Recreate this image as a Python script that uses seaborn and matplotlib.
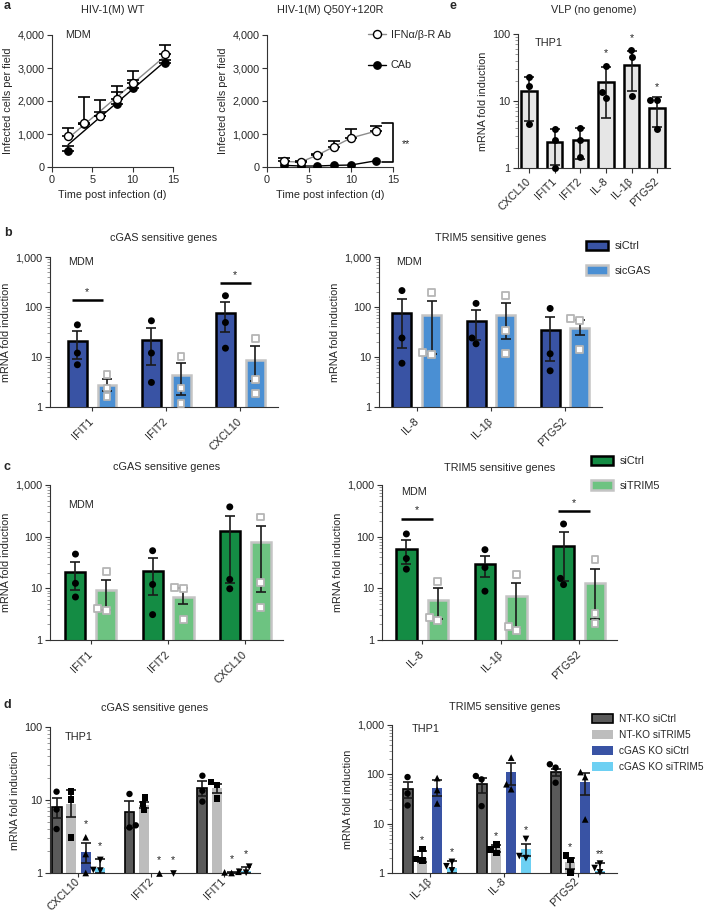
import numpy as np
import pandas as pd
import matplotlib
matplotlib.use("Agg")
import matplotlib.pyplot as plt
from matplotlib.ticker import FixedLocator, FuncFormatter, LogLocator, NullFormatter
from matplotlib.patches import Patch
from matplotlib.lines import Line2D
import seaborn as sns

sns.set_style("ticks")
plt.rcParams["font.family"] = ["Liberation Sans", "DejaVu Sans"]
plt.rcParams["font.size"] = 7.8

# ---------------- data ----------------
# a: infected cells per field
wt_days = [2, 4, 6, 8, 10, 14]
wt_ifn = [940, 1340, 1550, 2060, 2550, 3410]
wt_ifn_err = [230, 780, 490, 390, 370, 280]
wt_cab = [490, 1300, 1560, 1900, 2390, 3150]
wt_cab_err = [150, 0, 120, 360, 250, 100]

mut_days = [2, 4, 6, 8, 10, 13]
mut_ifn = [170, 150, 360, 620, 880, 1090]
mut_ifn_err = [100, 20, 30, 170, 260, 150]
mut_cab = [50, 30, 30, 50, 60, 190]

# e: VLP, THP1
e_genes = ["CXCL10", "IFIT1", "IFIT2", "IL-8", "IL-1β", "PTGS2"]
e_mean = [14, 2.45, 2.65, 19, 35, 7.8]
e_sd = [9, 1.35, 1.3, 13.5, 21, 3.7]
e_pts = [[23, 16.5, 4.5], [3.8, 2.6, 1.0], [4.0, 2.6, 1.45],
         [33, 13.5, 11], [57, 45, 12], [10.5, 10.2, 3.8]]
e_stars = ["", "", "", "*", "*", "*"]

cgas_genes = ["IFIT1", "IFIT2", "CXCL10"]
trim_genes = ["IL-8", "IL-1β", "PTGS2"]

# b: siCtrl vs sicGAS (MDM)
b_conds = ["siCtrl", "sicGAS"]
bl_mean = [[20.5, 21.5, 76], [2.8, 4.4, 8.9]]
bl_lo = [[9, 7, 31], [2.05, 1.75, 3.3]]
bl_hi = [[33, 38, 124], [3.6, 7.6, 16.3]]
bl_pts = [[[44, 12, 7], [53, 12, 3.1], [168, 49, 15]],
          [[4.4, 2.4, 1.6], [10.3, 2.4, 1.2], [23, 3.5, 1.9]]]
bl_sig = [(0, 140), (2, 300)]

br_mean = [[76, 53, 35], [69, 69, 38]]
br_lo = [[15.3, 21.5, 8.5], [11.6, 23, 27]]
br_hi = [[144, 87, 63], [133, 122, 56]]
br_pts = [[[213, 24, 7.5], [118, 24, 18.4], [93.5, 11.6, 5.3]],
          [[194, 11.2, 12.5], [168, 34, 11.9], [58.6, 52.8, 13.9]]]

# c: siCtrl vs siTRIM5 (MDM)
c_conds = ["siCtrl", "siTRIM5"]
cl_mean = [[20.8, 21.7, 126], [9.1, 6.8, 78]]
cl_lo = [[9.2, 7.3, 12.5], [3.75, 5.0, 8.4]]
cl_hi = [[32.6, 38, 251], [14.5, 10, 160]]
cl_pts = [[[46, 12.5, 6.8], [53.5, 11.9, 3.1], [377, 14.9, 9.8]],
          [[20.8, 3.75, 4.0], [10.2, 10, 2.46], [240, 12.9, 4.2]]]

cr_mean = [[57, 29.4, 66], [6.0, 7.0, 12.7]]
cr_lo = [[30, 16.3, 14], [2.5, 1.67, 2.6]]
cr_hi = [[88, 42, 124], [10, 12.7, 24]]
cr_pts = [[[113, 37.7, 23.5], [56, 25.3, 8.8], [176, 11.8, 15.6]],
          [[13.7, 2.4, 2.7], [18.4, 1.5, 1.8], [35.6, 3.2, 2.1]]]
cr_sig = [(0, 223), (2, 310)]

# d: THP1 knockouts
d_conds = ["NT-KO siCtrl", "NT-KO siTRIM5", "cGAS KO siCtrl", "cGAS KO siTRIM5"]
dl_genes = ["CXCL10", "IFIT2", "IFIT1"]
dl_mean = [[8.1, 6.9, 14.4], [8.8, 8.5, 14.4], [1.96, 1.0, 1.02], [1.16, 1.0, 1.08]]
dl_lo = [[5.7, 4.1, 11.4], [5.8, 7.8, 12.6], [1.36, 1.0, 1.0], [1.0, 1.0, 1.0]]
dl_hi = [[10.5, 9.7, 18.4], [13.5, 9.3, 16.4], [2.55, 1.0, 1.04], [1.54, 1.0, 1.2]]
dl_pts = [[[13, 7.4, 4.0], [12.1, 4.5, 4.2], [21.5, 13.4, 9.5]],
          [[13, 10.2, 3.08], [10.8, 8.9, 7.3], [17.8, 16, 10.5]],
          [[3.08, 1.82, 1.0], [1.0, np.nan, np.nan], [1.0, 1.02, 1.04]],
          [[1.51, 1.1, 1.08], [1.0, np.nan, np.nan], [1.22, 1.04, 1.01]]]
dl_stars = [["", "", ""], ["", "", ""], ["*", "*", "*"], ["*", "*", "*"]]

dr_genes = ["IL-1β", "IL-8", "PTGS2"]
dr_mean = [[49.6, 63.6, 111], [2.0, 3.2, 1.67], [54, 111, 70], [1.26, 3.0, 1.08]]
dr_lo = [[33, 42, 92], [1.7, 2.7, 1.2], [37, 62, 39], [1.0, 2.25, 1.0]]
dr_hi = [[70, 86, 130], [2.76, 3.77, 2.0], [77, 173, 108], [1.73, 3.95, 1.6]]
dr_pts = [[[88, 41, 23.4], [92.5, 79, 22.7], [160, 137, 67.6]],
          [[3.1, 1.8, 1.9], [3.77, 2.98, 2.55], [2.25, 1.81, 1.03]],
          [[84, 48, 25.7], [218, 63, 50], [111, 88, 12.2]],
          [[1.68, 1.37, 1.13], [4.9, 2.0, 2.2], [1.55, 1.26, 1.03]]]
dr_stars = [["", "", ""], ["*", "*", "*"], ["", "", ""], ["*", "*", "**"]]

# ---------------- styles ----------------
blue_dark, blue_light = "#3953a4", "#4a8fd3"
green_dark, green_light = "#148c44", "#6dc381"
edge_grey = "#c4c4c4"

def ctrl_style(fill):
    return dict(fill=fill, edge="black", lw=1.8, marker="o", pface="black",
                pedge="black", plw=0, size=5)

def kd_style(fill):
    return dict(fill=fill, edge=edge_grey, lw=1.8, marker="s", pface="white",
                pedge="#b5b5b5", plw=1.3, size=5)

b_styles = [ctrl_style(blue_dark), kd_style(blue_light)]
c_styles = [ctrl_style(green_dark), kd_style(green_light)]
d_styles = [
    dict(fill="#5a5a5a", edge="black", lw=1.2, marker="o", pface="black", pedge="black", plw=0, size=4.6),
    dict(fill="#bdbdbd", edge="none", lw=0, marker="s", pface="black", pedge="black", plw=0, size=4.6),
    dict(fill=blue_dark, edge="none", lw=0, marker="^", pface="black", pedge="black", plw=0, size=4.8),
    dict(fill="#6dd0f3", edge="none", lw=0, marker="v", pface="black", pedge="black", plw=0, size=4.8),
]

W, H = 708, 913
fig = plt.figure(figsize=(W / 100, H / 100), dpi=100)


def place(x0, y0, x1, y1):
    return fig.add_axes([x0 / W, 1 - y1 / H, (x1 - x0) / W, (y1 - y0) / H])


def base_style(ax):
    sns.despine(ax=ax)
    for sp in ("left", "bottom"):
        ax.spines[sp].set_linewidth(0.8)
        ax.spines[sp].set_color("#333333")
    ax.tick_params(which="major", length=3.5, width=0.8, pad=2, color="#333333")


def style_log(ax, top):
    ax.set_yscale("log")
    ax.set_ylim(1, top)
    ax.yaxis.set_major_locator(FixedLocator([t for t in (1, 10, 100, 1000) if t <= top]))
    ax.yaxis.set_major_formatter(FuncFormatter(lambda v, _: f"{v:,.0f}"))
    ax.yaxis.set_minor_locator(LogLocator(base=10, subs=np.arange(2, 10), numticks=20))
    ax.yaxis.set_minor_formatter(NullFormatter())


def unclip(ax, n0):
    # let markers sitting on the axis show fully; skip empty collections
    for coll in ax.collections[n0:]:
        if len(coll.get_offsets()) > 0:
            coll.set_clip_on(False)


def title(ax, text, px_above, h_px):
    ax.text(0.5, 1 + px_above / h_px, text, transform=ax.transAxes,
            ha="center", va="center")


def bar_panel(ax, genes, conds, means, lo, hi, pts, styles, gap, top=1000, lpad=6):
    style_log(ax, top)
    bars = pd.DataFrame({"gene": np.tile(genes, len(conds)),
                         "cond": np.repeat(conds, len(genes)),
                         "val": np.ravel(means)})
    sns.barplot(data=bars, x="gene", y="val", hue="cond", order=genes, hue_order=conds,
                palette=[s["fill"] for s in styles], saturation=1, width=0.8, gap=gap,
                errorbar=None, legend=False, ax=ax)
    centers = []
    for cont, s in zip(list(ax.containers), styles):
        xs = []
        for p in cont:
            p.set_edgecolor(s["edge"])
            p.set_linewidth(s["lw"])
            xs.append(p.get_x() + p.get_width() / 2)
        centers.append(np.array(xs))
    for xs, m, l, h in zip(centers, means, lo, hi):
        m, l, h = np.array(m), np.array(l), np.array(h)
        keep = h > m * 1.001
        ax.errorbar(xs[keep], m[keep], yerr=[(m - l)[keep], (h - m)[keep]], fmt="none",
                    ecolor="#1a1a1a", elinewidth=1.2, capsize=3.5, capthick=1.2, zorder=3)
    rows = [(g, c, v) for c, P in zip(conds, pts) for g, vals in zip(genes, P) for v in vals]
    pdf = pd.DataFrame(rows, columns=["gene", "cond", "val"]).dropna()
    for c, s in zip(conds, styles):
        n0 = len(ax.collections)
        sns.swarmplot(data=pdf[pdf.cond == c], x="gene", y="val", hue="cond", order=genes,
                      hue_order=conds, dodge=True, palette={k: s["pface"] for k in conds},
                      marker=s["marker"], size=s["size"], edgecolor=s["pedge"],
                      linewidth=s["plw"], legend=False, ax=ax, zorder=4)
        unclip(ax, n0)
    ax.set_ylim(1, top)
    base_style(ax)
    ax.tick_params(axis="y", which="minor", length=2, width=0.6, color="#888888")
    ax.tick_params(axis="x", length=3)
    ax.set_xticks(range(len(genes)))
    ax.set_xticklabels(genes, rotation=45, ha="right", va="center", rotation_mode="anchor")
    ax.tick_params(axis="x", pad=lpad)
    ax.set_xlabel("")
    ax.set_ylabel("mRNA fold induction", labelpad=3)
    return centers


def add_stars(ax, centers, hi, pts, stars):
    for i, row in enumerate(stars):
        for j, s in enumerate(row):
            if s:
                top = np.nanmax([hi[i][j]] + list(pts[i][j]))
                ax.text(centers[i][j], top * 1.5, s, ha="center", va="center")


def add_sig(ax, sig):
    for g, y in sig:
        ax.plot([g - 0.27, g + 0.14], [y, y], color="black", lw=1.8, solid_capstyle="butt")
        ax.text(g - 0.065, y * 1.45, "*", ha="center", va="center")


def patch_legend(ax, conds, styles, anchor, spacing, size=7.8):
    handles = [Patch(facecolor=s["fill"], edgecolor=s["edge"], linewidth=s["lw"]) for s in styles]
    ax.legend(handles, conds, loc="upper left", bbox_to_anchor=anchor, frameon=False,
              handlelength=2.0, handleheight=1.0, handletextpad=0.6,
              labelspacing=spacing, borderaxespad=0, borderpad=0, fontsize=size)


# ---------------- panel a ----------------
ax = place(52, 35, 173, 167)
sns.regplot(x=wt_days, y=wt_ifn, scatter=False, ci=None, color="#8c8c8c",
            line_kws={"lw": 1}, ax=ax)
sns.regplot(x=wt_days, y=wt_cab, scatter=False, ci=None, color="black",
            line_kws={"lw": 1}, ax=ax)
ax.errorbar(wt_days, wt_ifn, yerr=[np.zeros(6), wt_ifn_err], fmt="none", ecolor="black",
            elinewidth=1.2, capsize=4, capthick=1.2, zorder=3)
ax.errorbar(wt_days, wt_cab, yerr=[np.zeros(6), wt_cab_err], fmt="none", ecolor="black",
            elinewidth=1.2, capsize=4, capthick=1.2, zorder=3)
ax.plot(wt_days, wt_cab, "o", color="black", ms=5.3, zorder=4)
ax.plot(wt_days, wt_ifn, "o", mfc="white", mec="black", mew=1, ms=5.8, zorder=5)
ax.set_xlim(0, 15)
ax.set_ylim(0, 4000)
ax.set_xticks([0, 5, 10, 15])
ax.set_yticks([0, 1000, 2000, 3000, 4000])
ax.yaxis.set_major_formatter(FuncFormatter(lambda v, _: f"{v:,.0f}"))
ax.set_xlabel("Time post infection (d)")
ax.set_ylabel("Infected cells per field", labelpad=3)
base_style(ax)
ax.text(0.11, 1.0, "MDM", transform=ax.transAxes, va="center")
title(ax, "HIV-1(M) WT", 25, 132)

ax = place(267, 35, 393, 167)
sns.lineplot(x=mut_days, y=mut_ifn, color="#8c8c8c", lw=1, ax=ax)
sns.lineplot(x=mut_days, y=mut_cab, color="black", lw=1, ax=ax)
ax.errorbar(mut_days, mut_ifn, yerr=[np.zeros(6), mut_ifn_err], fmt="none", ecolor="black",
            elinewidth=1.2, capsize=4, capthick=1.2, zorder=3)
ax.plot(mut_days, mut_cab, "o", color="black", ms=5.3, zorder=4)
ax.plot(mut_days, mut_ifn, "o", mfc="white", mec="black", mew=1, ms=5.8, zorder=5)
ax.plot([13.7, 15, 15, 13.7], [1330, 1330, 150, 150], color="black", lw=1.2, clip_on=False)
ax.text(16.1, 700, "**", ha="left", va="center")
ax.set_xlim(0, 15)
ax.set_ylim(0, 4000)
ax.set_xticks([0, 5, 10, 15])
ax.set_yticks([0, 1000, 2000, 3000, 4000])
ax.yaxis.set_major_formatter(FuncFormatter(lambda v, _: f"{v:,.0f}"))
ax.set_xlabel("Time post infection (d)")
ax.set_ylabel("Infected cells per field", labelpad=3)
base_style(ax)
title(ax, "HIV-1(M) Q50Y+120R", 25, 132)
a_handles = [Line2D([], [], color="#8c8c8c", lw=1, marker="o", mfc="white", mec="black", ms=5.8),
             Line2D([], [], color="black", lw=1, marker="o", ms=5.3)]
ax.legend(a_handles, ["IFNα/β-R Ab", "CAb"], loc="upper left", bbox_to_anchor=(0.8, 1.04),
          frameon=False, handlelength=1.7, handletextpad=0.4, labelspacing=1.9,
          borderaxespad=0, borderpad=0, fontsize=7.8)

# ---------------- panel e ----------------
ax = place(518, 34, 670, 168)
style_log(ax, 100)
sns.barplot(x=e_genes, y=e_mean, color="#e6e6e6", saturation=1, width=0.6,
            edgecolor="black", linewidth=1.8, errorbar=None, ax=ax)
ax.errorbar(range(len(e_genes)), e_mean, yerr=e_sd, fmt="none", ecolor="#1a1a1a",
            elinewidth=1.2, capsize=3.5, capthick=1.2, zorder=3)
edf = pd.DataFrame([(g, v) for g, vals in zip(e_genes, e_pts) for v in vals],
                   columns=["gene", "val"])
n0 = len(ax.collections)
sns.swarmplot(data=edf, x="gene", y="val", order=e_genes, color="black", size=5,
              ax=ax, zorder=4)
unclip(ax, n0)
for j, s in enumerate(e_stars):
    if s:
        ax.text(j, max(e_pts[j]) * 1.55, s, ha="center", va="center")
ax.set_ylim(1, 100)
ax.set_xlim(-0.43, 5.5)
base_style(ax)
ax.tick_params(axis="y", which="minor", length=2, width=0.6, color="#888888")
ax.set_xticklabels(e_genes, rotation=45, ha="right", va="center", rotation_mode="anchor")
ax.tick_params(axis="x", pad=5)
ax.set_xlabel("")
ax.set_ylabel("mRNA fold induction", labelpad=3)
ax.text(0.11, 0.93, "THP1", transform=ax.transAxes, va="center")
title(ax, "VLP (no genome)", 24, 134)

# ---------------- panel b ----------------
ax = place(50, 257, 278, 407)
bar_panel(ax, cgas_genes, b_conds, bl_mean, bl_lo, bl_hi, bl_pts, b_styles, gap=0.36)
add_sig(ax, bl_sig)
ax.set_xlim(-0.57, 2.51)
ax.text(0.08, 0.967, "MDM", transform=ax.transAxes, va="center")
title(ax, "cGAS sensitive genes", 19, 150)

ax = place(379, 257, 602, 407)
bar_panel(ax, trim_genes, b_conds, br_mean, br_lo, br_hi, br_pts, b_styles, gap=0.36)
ax.set_xlim(-0.51, 2.5)
ax.text(0.076, 0.967, "MDM", transform=ax.transAxes, va="center")
title(ax, "TRIM5 sensitive genes", 19, 150)
patch_legend(ax, b_conds, b_styles, (0.93, 1.11), 1.3)

# ---------------- panel c ----------------
ax = place(50, 485, 283, 640)
bar_panel(ax, cgas_genes, c_conds, cl_mean, cl_lo, cl_hi, cl_pts, c_styles, gap=0.35)
ax.set_xlim(-0.53, 2.49)
ax.text(0.077, 0.87, "MDM", transform=ax.transAxes, va="center")
title(ax, "cGAS sensitive genes", 18, 155)

ax = place(382, 485, 617, 640)
bar_panel(ax, trim_genes, c_conds, cr_mean, cr_lo, cr_hi, cr_pts, c_styles, gap=0.35)
add_sig(ax, cr_sig)
ax.set_xlim(-0.51, 2.48)
ax.text(0.08, 0.955, "MDM", transform=ax.transAxes, va="center")
title(ax, "TRIM5 sensitive genes", 17, 155)
patch_legend(ax, c_conds, c_styles, (0.89, 1.19), 1.3)

# ---------------- panel d ----------------
ax = place(50, 727, 260, 873)
cen = bar_panel(ax, dl_genes, d_conds, dl_mean, dl_lo, dl_hi, dl_pts, d_styles, gap=0.32,
                top=100, lpad=2)
add_stars(ax, cen, dl_hi, dl_pts, dl_stars)
ax.set_xlim(-0.39, 2.49)
ax.text(0.071, 0.93, "THP1", transform=ax.transAxes, va="center")
title(ax, "cGAS sensitive genes", 19, 146)

ax = place(392, 725, 617, 873)
cen = bar_panel(ax, dr_genes, d_conds, dr_mean, dr_lo, dr_hi, dr_pts, d_styles, gap=0.32,
                lpad=2)
add_stars(ax, cen, dr_hi, dr_pts, dr_stars)
ax.set_xlim(-0.51, 2.53)
ax.text(0.089, 0.975, "THP1", transform=ax.transAxes, va="center")
title(ax, "TRIM5 sensitive genes", 18, 148)
patch_legend(ax, d_conds, d_styles, (0.89, 1.075), 0.6, size=7.3)

# panel letters
for lbl, x, y in [("a", 4, 6), ("b", 4, 233), ("c", 4, 467), ("d", 4, 705), ("e", 450, 6)]:
    fig.text(x / W, 1 - y / H, lbl, fontsize=9, fontweight="bold", va="center", ha="left")

fig.savefig("out.png", dpi=100)
